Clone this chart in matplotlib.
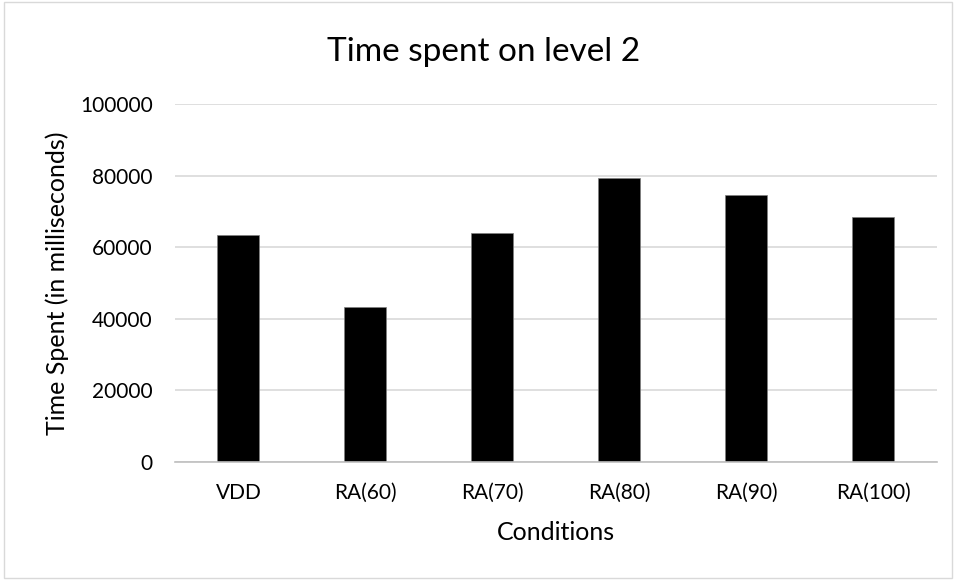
import matplotlib.pyplot as plt
from matplotlib.patches import Rectangle

conditions = ["VDD", "RA(60)", "RA(70)", "RA(80)", "RA(90)", "RA(100)"]
time_spent = [63350, 43350, 64100, 79450, 74600, 68550]
y_ticks = [0, 20000, 40000, 60000, 80000, 100000]

plt.rcParams["font.family"] = ["Lato", "DejaVu Sans"]

fig = plt.figure(figsize=(9.56, 5.8), dpi=100)
ax = fig.add_axes([0.183, 0.2034, 0.797, 0.617])

ax.bar(conditions, time_spent, width=0.33, color="black", edgecolor="#7f7f7f",
       linewidth=0.5, zorder=3)

ax.set_ylim(0, 100000)
ax.set_yticks(y_ticks)
ax.set_xlim(-0.5, len(conditions) - 0.5)
ax.yaxis.grid(True, color="#d9d9d9", linewidth=1.2, zorder=0)
for side in ["top", "right", "left"]:
    ax.spines[side].set_visible(False)
ax.spines["bottom"].set_color("#bfbfbf")
ax.spines["bottom"].set_linewidth(1.2)
ax.spines["bottom"].set_zorder(4)
ax.tick_params(axis="both", length=0, labelsize=15, colors="#000000")
ax.tick_params(axis="y", pad=16)
ax.tick_params(axis="x", pad=15)

ax.set_xlabel("Conditions", fontsize=18)
ax.set_ylabel("Time Spent (in milliseconds)", fontsize=18)
ax.xaxis.set_label_coords(0.5, -0.198)
ax.xaxis.label.set_va("center")
ax.yaxis.set_label_coords(-0.155, 0.5)
ax.yaxis.label.set_va("center")

fig.text(484 / 956, 1 - 52 / 580, "Time spent on level 2", fontsize=24,
         ha="center", va="center")

fig.patches.append(Rectangle((0.004, 0.004), 0.992, 0.992, transform=fig.transFigure,
                             fill=False, edgecolor="#d9d9d9", linewidth=1))

fig.savefig("out.png", dpi=100)
